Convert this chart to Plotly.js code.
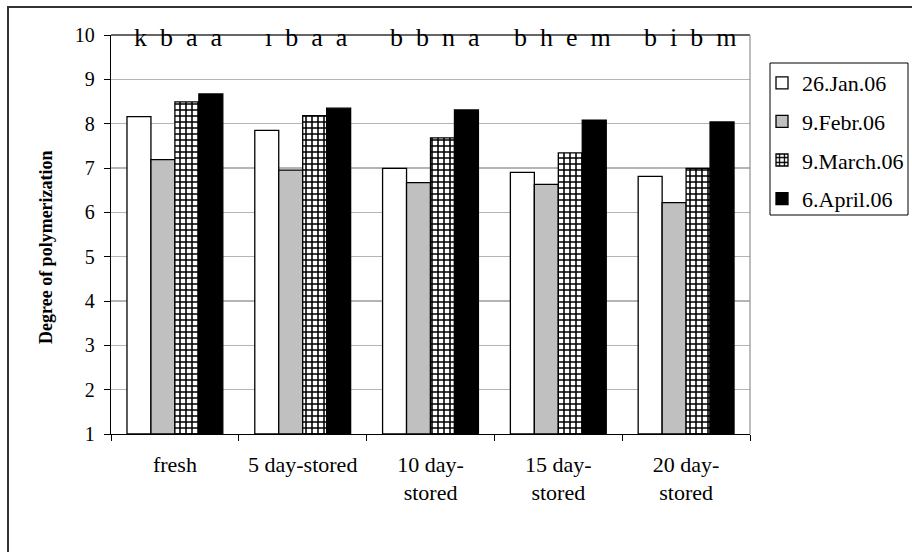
<!DOCTYPE html>
<html>
<head>
<meta charset="utf-8">
<script src="https://cdn.plot.ly/plotly-3.0.1.min.js"></script>
<style>
  html, body { margin: 0; padding: 0; background: #fff; }
  #chart { width: 912px; height: 552px; }
</style>
</head>
<body>
<div id="chart"></div>
<script>
// Storage groups along the x axis
const categories = ['fresh', '5 day-stored', '10 day-<br>stored', '15 day-<br>stored', '20 day-<br>stored'];

// Harvest dates (one bar series per date)
const seriesNames = ['26.Jan.06', '9.Febr.06', '9.March.06', '6.April.06'];

// Degree of polymerization per storage group
const jan26 = [8.16, 7.85, 6.99, 6.90, 6.81];
const feb9  = [7.19, 6.95, 6.67, 6.63, 6.22];
const mar9  = [8.49, 8.18, 7.68, 7.34, 6.99];
const apr6  = [8.67, 8.35, 8.31, 8.08, 8.04];

// Significance letters above each group
const groupLetters = [
  ['k', 'b', 'a', 'a'],
  ['\u0131', 'b', 'a', 'a'],
  ['b', 'b', 'n', 'a'],
  ['b', 'h', 'e', 'm'],
  ['b', 'i', 'b', 'm']
];

const yTicks = [1, 2, 3, 4, 5, 6, 7, 8, 9, 10];
const yMin = 1, yMax = 10;

const FONT = 'Liberation Serif, Times New Roman, serif';

// plot-area geometry in pixels
const W = 912, H = 552;
const M = { l: 111, r: 162, t: 35, b: 118, autoexpand: false };
const pw = W - M.l - M.r, ph = H - M.t - M.b;
const px = x => (x - M.l) / pw;          // pixel x -> paper x
const py = y => (H - M.b - y) / ph;      // pixel y -> paper y

const line = { color: '#000', width: 1.3 };
const styles = [
  { color: '#ffffff', line: line },
  { color: '#c0c0c0', line: line },
  { color: '#ffffff', line: line,
    pattern: { shape: '+', fgcolor: '#000', bgcolor: '#fff', size: 6, solidity: 0.45, fillmode: 'replace' } },
  { color: '#000000', line: line }
];
const values = [jan26, feb9, mar9, apr6];

// bars start at the axis minimum, so height = value - yMin
const traces = seriesNames.map((name, i) => ({
  type: 'bar',
  name: name,
  x: categories,
  y: values[i].map(v => v - yMin),
  base: yMin,
  marker: styles[i],
  legendgroup: 'g' + i,
  hoverinfo: 'skip'
}));

const annotations = categories.map((c, i) => ({
  x: c, xref: 'x',
  y: yMax, yref: 'y',
  yanchor: 'middle',
  xshift: 4,
  yshift: -2,
  text: groupLetters[i].join('\u00a0\u00a0'),
  showarrow: false,
  font: { family: FONT, size: 26, color: '#000' }
}));

annotations.push({
  text: '<b>Degree of polymerization</b>',
  textangle: -90,
  xref: 'paper', yref: 'paper',
  x: px(46), y: py(247),
  xanchor: 'center', yanchor: 'middle',
  showarrow: false,
  font: { family: FONT, size: 18, color: '#000' }
});

const layout = {
  width: W, height: H,
  margin: M,
  paper_bgcolor: '#fff',
  plot_bgcolor: '#fff',
  font: { family: FONT, size: 20, color: '#000' },
  barmode: 'group',
  bargap: 0.25,
  bargroupgap: 0,
  showlegend: true,
  legend: {
    x: px(762), y: py(62),
    xanchor: 'left', yanchor: 'top',
    borderwidth: 0,
    bgcolor: 'rgba(0,0,0,0)',
    font: { family: FONT, size: 22 },
    tracegroupgap: 7,
    itemwidth: 30
  },
  xaxis: {
    type: 'category',
    range: [-0.5, categories.length - 0.5],
    tickson: 'boundaries',
    ticks: 'outside', ticklen: 6, tickcolor: '#000', tickwidth: 1,
    showline: true, linecolor: '#000', linewidth: 1.3,
    showgrid: false,
    tickfont: { family: FONT, size: 22 },
    ticklabelstandoff: 10,
    fixedrange: true
  },
  yaxis: {
    range: [yMin, yMax],
    tickvals: yTicks,
    ticks: 'outside', ticklen: 6, tickcolor: '#000', tickwidth: 1,
    showline: true, linecolor: '#000', linewidth: 1.3,
    showgrid: true, gridcolor: '#b4b4b4', gridwidth: 1.3,
    zeroline: false,
    tickfont: { family: FONT, size: 20 },
    ticklabelstandoff: 5,
    fixedrange: true
  },
  shapes: [
    // plot-area frame: dark top, grey right
    { type: 'line', xref: 'paper', yref: 'paper', x0: 0, x1: 1, y0: 1, y1: 1,
      line: { color: '#333', width: 1.3 } },
    { type: 'line', xref: 'paper', yref: 'paper', x0: 1, x1: 1, y0: 0, y1: 1,
      line: { color: '#999', width: 1.3 } },
    // legend box
    { type: 'rect', xref: 'paper', yref: 'paper',
      x0: px(770), x1: px(908), y0: py(63), y1: py(215),
      line: { color: '#000', width: 1 }, fillcolor: 'rgba(0,0,0,0)' },
    // outer chart frame
    { type: 'rect', xref: 'paper', yref: 'paper',
      x0: px(8), x1: px(W + 20), y0: py(7), y1: py(H + 20),
      line: { color: '#333', width: 2 }, fillcolor: 'rgba(0,0,0,0)', layer: 'below' }
  ],
  annotations: annotations
};

Plotly.newPlot('chart', traces, layout, { displayModeBar: false, staticPlot: true });
</script>
</body>
</html>
